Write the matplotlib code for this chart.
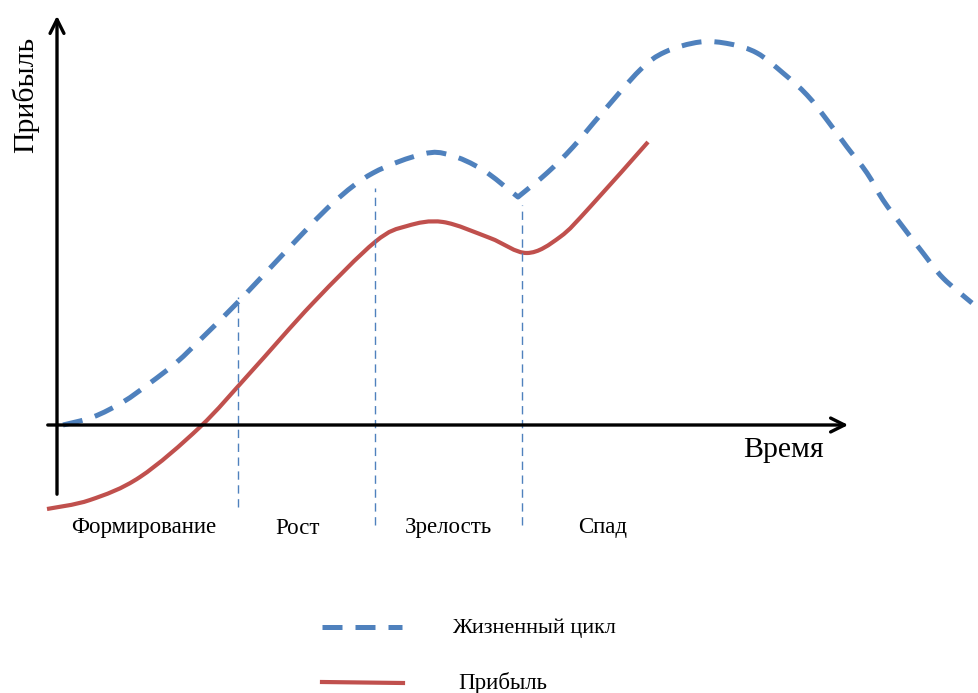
import matplotlib
matplotlib.use('Agg')
import numpy as np
import matplotlib.pyplot as plt
from matplotlib.path import Path
from matplotlib.patches import PathPatch

# Данные кривых (время, уровень)
life_t = [6, 36, 66, 93, 120, 146, 183, 230, 276, 316, 366, 393, 426, 461,
          490, 516, 545, 583, 608, 643, 673, 700, 726, 750, 770, 790, 810, 826, 846, 866, 886, 915]
life_v = [0, 8, 23, 42, 63, 88, 125, 175, 222, 252, 271, 270, 255, 228,
          252, 278, 312, 355, 373, 383, 381, 372, 352, 330, 305, 278, 252, 225, 198, 172, 147, 122]
life_corner = 13  # излом кривой в точке спада

profit_t = [-10, 33, 83, 143, 193, 256, 318, 350, 386, 433, 470, 503, 533, 591]
profit_v = [-84, -75, -52, -2, 52, 122, 183, 199, 203, 187, 172, 188, 218, 283]

stages = ['Формирование', 'Рост', 'Зрелость', 'Спад']
stage_pos = [87, 241, 391, 546]
bounds = [181, 318, 465]
bound_top = [128, 237, 220]
bound_bottom = [-82, -100, -100]

blue = '#4F81BD'
red = '#C0504D'
plt.rcParams['font.family'] = ['Liberation Serif', 'DejaVu Serif']


def smooth_path(xs, ys, corner=None):
    """Гладкая кривая Безье через заданные точки (Catmull-Rom)."""
    p = np.column_stack([xs, ys]).astype(float)
    n = len(p)
    tan = np.zeros_like(p)
    for i in range(n):
        a = p[max(i - 1, 0)]
        b = p[min(i + 1, n - 1)]
        tan[i] = (b - a) / 2.0
    verts = [p[0]]
    codes = [Path.MOVETO]
    for i in range(n - 1):
        t0 = tan[i]
        t1 = tan[i + 1]
        if corner is not None and i == corner:
            t0 = p[i + 1] - p[i]
        if corner is not None and i + 1 == corner:
            t1 = p[i + 1] - p[i]
        verts += [p[i] + t0 / 3.0, p[i + 1] - t1 / 3.0, p[i + 1]]
        codes += [Path.CURVE4] * 3
    return Path(verts, codes)


fig = plt.figure(figsize=(9.79, 6.93), dpi=100)
ax = fig.add_axes([0, 0, 1, 1])
ax.set_xlim(-57, 922)
ax.set_ylim(-268, 425)
ax.axis('off')

# оси со стрелками
ax.annotate('', xy=(0, 412), xytext=(0, -72),
            arrowprops=dict(arrowstyle='->,head_length=1.0,head_width=0.5', lw=2.4, color='black'))
ax.annotate('', xy=(794, 0), xytext=(-12, 0),
            arrowprops=dict(arrowstyle='->,head_length=1.0,head_width=0.5', lw=2.4, color='black'))

for b, top, bot in zip(bounds, bound_top, bound_bottom):
    ax.plot([b, b], [bot, top], color=blue, lw=1, ls=(0, (6, 4)))

ax.add_patch(PathPatch(smooth_path(life_t, life_v, life_corner), fill=False,
                       edgecolor=blue, lw=3.6, ls=(0, (4, 2.6)), joinstyle='round'))
ax.add_patch(PathPatch(smooth_path(profit_t, profit_v), fill=False,
                       edgecolor=red, lw=3, joinstyle='round', capstyle='butt'))

for name, x in zip(stages, stage_pos):
    ax.text(x, -103, name, ha='center', va='center', fontsize=16.5)

ax.text(726, -25, 'Время', ha='center', va='center', fontsize=21.5)
ax.text(-32, 330, 'Прибыль', ha='center', va='center', fontsize=21.5, rotation=90)

# легенда внизу
ax.plot([265, 345], [-202, -202], color=blue, lw=3.6, ls=(0, (4, 2.6)))
ax.text(395, -203, 'Жизненный цикл', ha='left', va='center', fontsize=16)
ax.plot([265, 346], [-257, -258], color=red, lw=3)
ax.text(401, -258, 'Прибыль', ha='left', va='center', fontsize=16.5)

fig.savefig('out.png', dpi=100)
